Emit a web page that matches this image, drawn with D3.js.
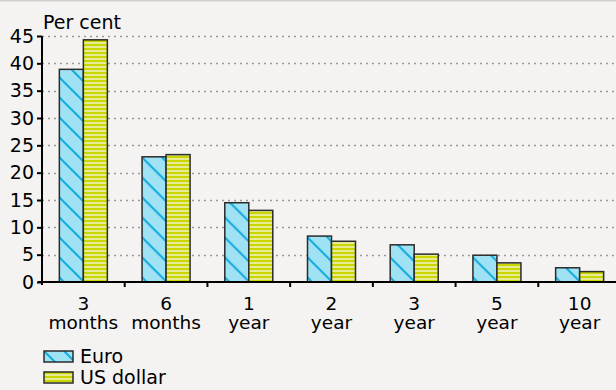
<!DOCTYPE html>
<html>
<head>
<meta charset="utf-8">
<script src="https://cdn.jsdelivr.net/npm/d3@7"></script>
<style>
  html, body { margin: 0; padding: 0; background: #f4f3f1; }
  svg { display: block; }
  text { font-family: "DejaVu Sans", sans-serif; fill: #000; }
</style>
</head>
<body>
<svg id="chart" width="616" height="390"></svg>
<script>
// Maturities on the horizontal axis (two-line labels)
const categoriesTop = ["3", "6", "1", "2", "3", "5", "10"];
const categoriesBottom = ["months", "months", "year", "year", "year", "year", "year"];
const categories = categoriesTop.map((t, i) => t + " " + categoriesBottom[i]);

// Series values, per cent
const euroValues = [38.9, 22.9, 14.5, 8.4, 6.8, 4.9, 2.6];
const usdValues = [44.3, 23.3, 13.1, 7.45, 5.1, 3.5, 1.9];
const seriesNames = ["Euro", "US dollar"];

const yTicks = [0, 5, 10, 15, 20, 25, 30, 35, 40, 45];

const W = 616, H = 390;
const plotLeft = 42, plotRight = 621, plotTop = 36, plotBottom = 282;
const fontSize = 19;
const catFontSize = 18.5;

const svg = d3.select("#chart");

svg.append("rect").attr("width", W).attr("height", H).attr("fill", "#f4f3f1");
svg.append("line").attr("x1", 0).attr("x2", W).attr("y1", 0.5).attr("y2", 0.5)
  .attr("stroke", "#d3cfcb").attr("stroke-width", 2);

// Fill patterns
const defs = svg.append("defs");
const pEuro = defs.append("pattern").attr("id", "hatchEuro")
  .attr("patternUnits", "userSpaceOnUse").attr("width", 20).attr("height", 20);
pEuro.append("rect").attr("width", 20).attr("height", 20).attr("fill", "#9fe2f4");
pEuro.append("path").attr("d", "M-2,-2 L22,22 M-12,8 L2,22 M8,-12 L22,2")
  .attr("stroke", "#12ace0").attr("stroke-width", 2);

const pUsd = defs.append("pattern").attr("id", "stripeUsd")
  .attr("patternUnits", "userSpaceOnUse").attr("width", 8).attr("height", 4);
pUsd.append("rect").attr("width", 8).attr("height", 4).attr("fill", "#c9d600");
pUsd.append("rect").attr("y", 2).attr("width", 8).attr("height", 2).attr("fill", "#e6eb94");

const fills = ["url(#hatchEuro)", "url(#stripeUsd)"];

const x = d3.scaleBand().domain(categories).range([plotLeft, plotRight]).paddingInner(0).paddingOuter(0);
const x1 = d3.scaleBand().domain(seriesNames).range([x.bandwidth() / 2 - 24, x.bandwidth() / 2 + 24]);
const y = d3.scaleLinear().domain([0, 45]).range([plotBottom, plotTop]);

// Dotted gridlines
svg.append("g").selectAll("line").data(yTicks.filter(d => d > 0)).join("line")
  .attr("x1", plotLeft).attr("x2", W)
  .attr("y1", d => Math.round(y(d)) + 0.5).attr("y2", d => Math.round(y(d)) + 0.5)
  .attr("stroke", "#9a9a9a").attr("stroke-width", 1.3).attr("stroke-dasharray", "2,4");

// Bars
const rows = categories.map((c, i) => ({ c, vals: [euroValues[i], usdValues[i]] }));
const groups = svg.append("g").selectAll("g").data(rows).join("g")
  .attr("transform", d => `translate(${x(d.c)},0)`);
groups.selectAll("rect").data(d => d.vals.map((v, k) => ({ v, k }))).join("rect")
  .attr("x", d => x1(seriesNames[d.k]))
  .attr("width", x1.bandwidth())
  .attr("y", d => y(d.v))
  .attr("height", d => y(0) - y(d.v))
  .attr("fill", d => fills[d.k])
  .attr("stroke", "#2b2b2b").attr("stroke-width", 1.5);

// Y axis
const yAxis = d3.axisLeft(y).tickValues(yTicks).tickSize(5).tickPadding(3);
const gy = svg.append("g").attr("transform", `translate(${plotLeft},0)`).call(yAxis);
gy.select(".domain").attr("stroke", "#000").attr("stroke-width", 2)
  .attr("d", `M0,${plotTop}V${plotBottom + 3}`);
gy.selectAll(".tick line").attr("stroke", "#000").attr("stroke-width", 2);
gy.selectAll(".tick text").attr("font-size", fontSize).attr("font-family", "DejaVu Sans").attr("fill", "#000");

// X axis with ticks at category boundaries
const gx = svg.append("g");
gx.append("line").attr("x1", plotLeft - 4).attr("x2", W).attr("y1", plotBottom).attr("y2", plotBottom)
  .attr("stroke", "#000").attr("stroke-width", 2);
gx.selectAll("line.tk").data(categories.slice(1)).join("line").attr("class", "tk")
  .attr("x1", d => x(d)).attr("x2", d => x(d))
  .attr("y1", plotBottom).attr("y2", plotBottom + 5)
  .attr("stroke", "#000").attr("stroke-width", 2);
const lbl = gx.selectAll("text").data(categories).join("text")
  .attr("text-anchor", "middle").attr("font-size", catFontSize)
  .attr("x", d => x(d) + x.bandwidth() / 2);
lbl.append("tspan").attr("y", 310).text((d, i) => categoriesTop[i]);
lbl.append("tspan").attr("x", d => x(d) + x.bandwidth() / 2).attr("y", 328.5).text((d, i) => categoriesBottom[i]);

// Unit label
svg.append("text").attr("x", 43).attr("y", 29).attr("font-size", fontSize).text("Per cent");

// Legend
const lg = svg.append("g").selectAll("g").data(seriesNames).join("g")
  .attr("transform", (d, i) => `translate(44,${351 + i * 21})`);
lg.append("rect").attr("width", 29).attr("height", 11)
  .attr("fill", (d, i) => fills[i]).attr("stroke", "#2b2b2b").attr("stroke-width", 1.5);
lg.append("text").attr("x", 36).attr("y", 12).attr("font-size", fontSize).text(d => d);
</script>
</body>
</html>
